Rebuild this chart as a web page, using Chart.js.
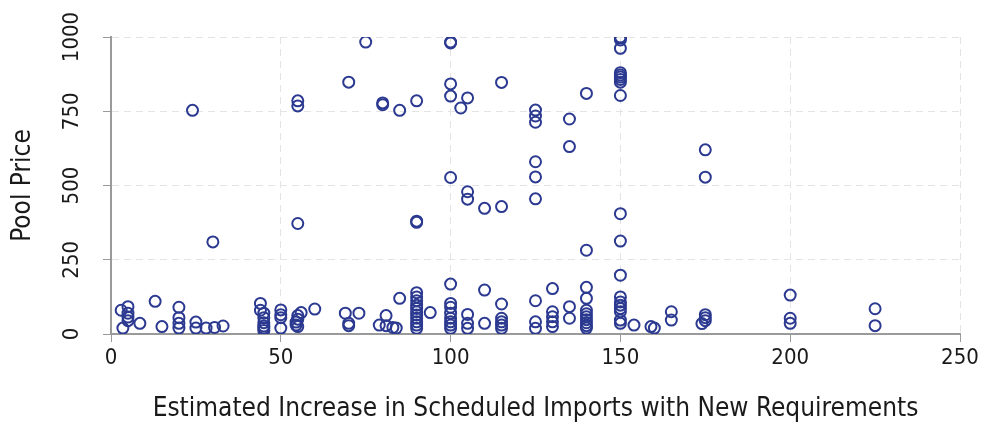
<!DOCTYPE html>
<html>
<head>
<meta charset="utf-8">
<script src="https://cdn.jsdelivr.net/npm/chart.js@4"></script>
<style>
  html, body { margin: 0; padding: 0; background: #ffffff; }
  #wrap { width: 985px; height: 425px; position: relative; }
</style>
</head>
<body>
<div id="wrap"><canvas id="c"></canvas></div>
<script>
// Estimated increase in scheduled imports (x) and pool price (y), one pair per point
const importIncrease = [
  3, 5, 5, 5, 5, 3.5, 8.5, 13, 15,
  20, 20, 20, 20,
  25, 25, 28, 30.5, 33,
  44, 44, 45, 45, 45, 45, 45, 45,
  50, 50, 50, 50,
  56, 55, 55, 54.5, 54.5, 55,
  60,
  69, 70, 70, 73,
  81, 79, 81, 83, 84, 85,
  90, 90, 90, 90, 90, 90, 90, 90, 90, 90, 90,
  94,
  100, 100, 100, 100, 100, 100, 100, 100,
  105, 105, 105,
  110, 110,
  115, 115, 115, 115, 115,
  125, 125, 125,
  130, 130, 130, 130, 130,
  135, 135,
  140, 140, 140, 140, 140, 140, 140, 140, 140,
  150, 150, 150, 150, 150, 150, 150, 150,
  154, 159, 160,
  165, 165,
  175, 175, 175, 174,
  200, 200, 200,
  225, 225,
  24, 30, 55, 55, 55, 70, 75, 80, 80, 85, 90, 90, 90,
  100, 100, 100, 100, 103, 105, 100, 105, 105, 110, 115, 115,
  125, 125, 125, 125, 125, 125, 135, 135, 140, 140,
  150, 150, 150, 150, 150, 150, 150, 150, 150, 150, 150, 150,
  175, 175
];
const poolPrice = [
  80, 92, 70, 57, 45, 20, 36, 110, 25,
  90, 55, 36, 20,
  40, 20, 20, 22, 27,
  103, 80, 70, 55, 38, 27, 20, 12,
  81, 65, 55, 20,
  72, 62, 50, 40, 30, 25,
  84,
  70, 36, 28, 70,
  62, 30, 28, 22, 20, 120,
  139, 125, 112, 97, 86, 75, 64, 53, 41, 30, 19,
  72,
  168, 103, 90, 70, 53, 41, 30, 19,
  66, 36, 19,
  148, 36,
  101, 53, 41, 30, 19,
  112, 41, 19,
  153, 75, 58, 41, 25,
  92, 53,
  157, 120, 80, 68, 58, 48, 38, 28, 20,
  198, 125, 108, 97, 86, 75, 47, 36,
  30, 25, 20,
  75, 47,
  65, 55, 45, 35,
  131, 53, 36,
  85, 28,
  753, 310, 785, 768, 372, 848, 983, 778, 772, 753, 785, 380, 376,
  983, 980, 842, 801, 761, 795, 527, 479, 454, 423, 429, 847,
  754, 734, 713, 580, 529, 455, 724, 631, 810, 282,
  1000, 997, 990, 962, 880, 872, 865, 857, 848, 803, 405, 313,
  620, 528
];
const xTickValues = [0, 50, 100, 150, 200, 250];
const yTickValues = [0, 250, 500, 750, 1000];
const xTitle = 'Estimated Increase in Scheduled Imports with New Requirements';
const yTitle = 'Pool Price';

const points = importIncrease.map((x, i) => ({ x: x, y: poolPrice[i] }));
const FONT = '"DejaVu Sans Condensed", "DejaVu Sans", sans-serif';
const TEXT = '#1a1a1a';
const AXIS = '#9a9a9a';
const GRID = '#e4e4e4';

new Chart(document.getElementById('c'), {
  type: 'scatter',
  data: {
    datasets: [{
      data: points,
      pointRadius: 5.5,
      pointHoverRadius: 5.5,
      pointBorderWidth: 2,
      borderColor: '#2b3990',
      backgroundColor: 'rgba(0,0,0,0)',
      pointBackgroundColor: 'rgba(0,0,0,0)'
    }]
  },
  options: {
    responsive: true,
    maintainAspectRatio: false,
    animation: false,
    layout: { padding: { top: 37, right: 25, left: 0, bottom: 0 } },
    plugins: { legend: { display: false }, tooltip: { enabled: false } },
    scales: {
      x: {
        type: 'linear',
        min: xTickValues[0],
        max: xTickValues[xTickValues.length - 1],
        afterBuildTicks: (s) => { s.ticks = xTickValues.map(v => ({ value: v })); },
        afterFit: (s) => { s.height = 91; },
        grid: { color: GRID, tickColor: AXIS, tickLength: 8, lineWidth: 1 },
        border: { display: true, color: AXIS, width: 2, dash: [7, 5] },
        ticks: { color: TEXT, font: { family: FONT, size: 22 }, padding: 3, maxRotation: 0, callback: (v) => String(v) },
        title: { display: true, text: xTitle, color: TEXT, font: { family: FONT, size: 26 }, padding: { top: 2, bottom: 0 } }
      },
      y: {
        type: 'linear',
        min: yTickValues[0],
        max: yTickValues[yTickValues.length - 1],
        afterBuildTicks: (s) => { s.ticks = yTickValues.map(v => ({ value: v })); },
        afterFit: (s) => { s.width = 111; },
        grid: { color: GRID, tickColor: AXIS, tickLength: 8, lineWidth: 1 },
        border: { display: true, color: AXIS, width: 2, dash: [7, 5] },
        ticks: { color: TEXT, font: { family: FONT, size: 22 }, padding: 6, minRotation: 90, maxRotation: 90, crossAlign: 'center', callback: (v) => String(v) },
        title: { display: true, text: yTitle, color: TEXT, font: { family: FONT, size: 26 }, padding: { top: 8, bottom: 0 } }
      }
    }
  }
});
</script>
</body>
</html>
